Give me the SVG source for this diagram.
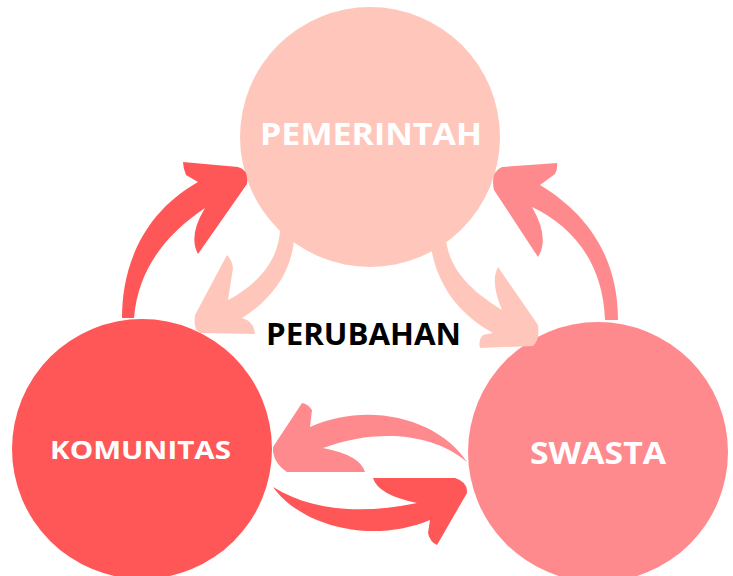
<svg xmlns="http://www.w3.org/2000/svg" width="733" height="576" viewBox="0 0 733 576">
<style>
.lbl{font-family:"Open Sans","Liberation Sans",sans-serif;font-weight:700;text-anchor:middle;fill:#ffffff}
.ctr{fill:#000000}
.c1{fill:#FFC7BB}.c2{fill:#FF5757}.c3{fill:#FF8A8E}
</style>
<rect width="733" height="576" fill="#ffffff"/>
<g id="pemerintah"><circle class="c1" cx="370" cy="137" r="130"/><text class="lbl" x="371" y="145" font-size="30" textLength="222" lengthAdjust="spacingAndGlyphs">PEMERINTAH</text></g>
<g id="komunitas"><circle class="c2" cx="142" cy="449" r="130"/><text class="lbl" x="140.5" y="459" font-size="25" textLength="181" lengthAdjust="spacingAndGlyphs">KOMUNITAS</text></g>
<g id="swasta"><circle class="c3" cx="598" cy="452" r="130"/><text class="lbl" x="598" y="464" font-size="30" textLength="136" lengthAdjust="spacingAndGlyphs">SWASTA</text></g>
<g id="connectors">
<path class="c2" d="M122,318 C122,270 140,215 198,182 L186,175 Q183,168 183,162 L238,167 Q249,170 247,184 L198,254 Q188,236 205,208 C165,235 138,270 134,318 Z"/>
<path class="c1" d="M280,222 C282,255 262,282 228,300 L233,268 Q232,260 227,255 L195,315 Q193,330 200,333 L255,334 Q254,324 247,320 L242,318 C268,302 292,275 294,238 Z"/>
<path class="c1" d="M430,240 C435,285 460,315 493,333 L483,335 Q478,340 480,348 L533,346 Q540,340 538,325 L498,267 Q490,282 502,310 C470,290 450,270 446,240 Z"/>
<path class="c3" d="M618,320 C618,260 590,215 540,185 L555,174 Q558,168 557,163 L502,167 Q490,172 494,190 L538,257 Q550,238 532,207 C570,225 603,260 605,320 Z"/>
<path class="c3" d="M467,462 C440,420 370,400 310,427 L312,410 Q308,404 302,403 L273,447 Q272,462 287,472 L365,472 Q360,455 323,448 C370,430 430,430 467,462 Z"/>
<path class="c2" d="M273,487 C300,525 370,545 430,520 L428,533 Q430,542 437,545 L467,493 Q468,482 455,478 L373,478 Q378,495 417,503 C360,515 310,510 273,487 Z"/>
</g>
<text class="lbl ctr" x="363.5" y="345" font-size="30" textLength="195" lengthAdjust="spacingAndGlyphs">PERUBAHAN</text>
</svg>
